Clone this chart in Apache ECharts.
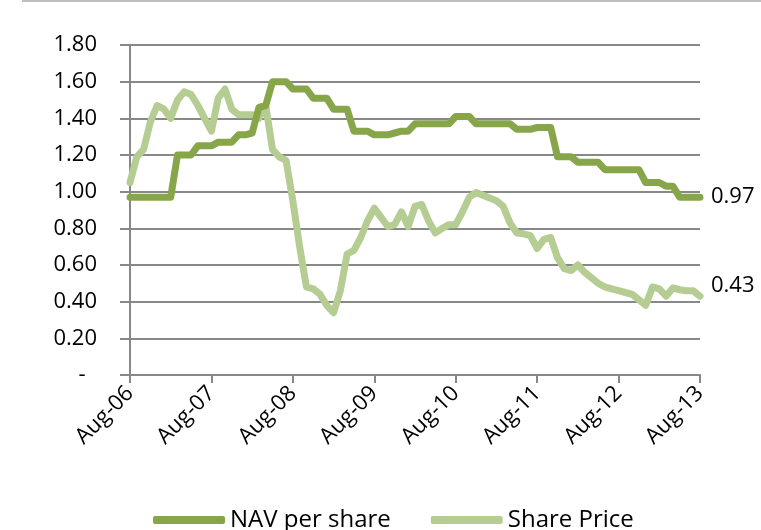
<!DOCTYPE html>
<html lang="en">
<head>
    <meta charset="UTF-8">
    <title> NAV vs Share Price </title>
    <script src="https://cdn.jsdelivr.net/npm/echarts@6/dist/echarts.min.js"></script>
    <style>
        body { margin: 0; background: #fff; }
    </style>
</head>
<body>
    <div id="main" style="width: 761px;height:530px;"></div>
    <script type="text/javascript">
      // month labels Aug-06 .. Aug-13
      var monthNames = ['Jan','Feb','Mar','Apr','May','Jun','Jul','Aug','Sep','Oct','Nov','Dec'];
      var months = [];
      for (var k = 0; k < 85; k++) {
        var m = (7 + k) % 12;
        var y = 6 + Math.floor((7 + k) / 12);
        months.push(monthNames[m] + '-' + (y < 10 ? '0' + y : y));
      }

      var navPerShare = [
        0.97, 0.97, 0.97, 0.97, 0.97, 0.97, 0.97,
        1.20, 1.20, 1.20, 1.25, 1.25, 1.25, 1.27, 1.27, 1.27,
        1.31, 1.31, 1.32, 1.46, 1.47,
        1.60, 1.60, 1.60, 1.56, 1.56, 1.56, 1.51, 1.51, 1.51,
        1.45, 1.45, 1.45, 1.33, 1.33, 1.33, 1.31, 1.31, 1.31,
        1.32, 1.33, 1.33, 1.37, 1.37, 1.37, 1.37, 1.37, 1.37,
        1.41, 1.41, 1.41, 1.37, 1.37, 1.37, 1.37, 1.37, 1.37,
        1.34, 1.34, 1.34, 1.35, 1.35, 1.35, 1.19, 1.19, 1.19,
        1.16, 1.16, 1.16, 1.16, 1.12, 1.12, 1.12, 1.12, 1.12, 1.12,
        1.05, 1.05, 1.05, 1.03, 1.03, 0.97, 0.97, 0.97, 0.97
      ];

      var sharePrice = [
        1.05, 1.19, 1.23, 1.38, 1.47, 1.45, 1.40, 1.50, 1.545, 1.53,
        1.47, 1.40, 1.33, 1.51, 1.56, 1.45, 1.42, 1.42, 1.42, 1.40,
        1.47, 1.23, 1.19, 1.17, 0.95, 0.70, 0.48, 0.47, 0.44, 0.38,
        0.34, 0.46, 0.66, 0.68, 0.75, 0.84, 0.91, 0.86, 0.81, 0.82,
        0.89, 0.81, 0.92, 0.93, 0.84, 0.775, 0.80, 0.82, 0.82, 0.89,
        0.97, 0.995, 0.98, 0.965, 0.95, 0.92, 0.83, 0.775, 0.77, 0.76,
        0.69, 0.74, 0.75, 0.64, 0.58, 0.57, 0.60, 0.56, 0.53, 0.50,
        0.48, 0.47, 0.46, 0.45, 0.44, 0.41, 0.38, 0.48, 0.47, 0.43,
        0.475, 0.465, 0.46, 0.46, 0.43
      ];

      var navColor = '#87a64a';
      var priceColor = '#b5cd93';
      var gridGray = '#888888';
      var font = 'Open Sans';

      var myChart = echarts.init(document.getElementById('main'));

      var option = {
        animation: false,
        textStyle: { fontFamily: font },
        grid: { left: 130, right: 61, top: 45, bottom: 155 },
        legend: {
          left: 148,
          bottom: -7,
          icon: 'roundRect',
          itemWidth: 72,
          itemHeight: 8,
          itemGap: 40,
          textStyle: { fontSize: 24, color: '#000', fontFamily: font },
          data: ['NAV per share', 'Share Price']
        },
        xAxis: {
          type: 'category',
          boundaryGap: false,
          data: months,
          axisLine: { lineStyle: { color: gridGray, width: 2 } },
          axisTick: { interval: 11, length: 8, lineStyle: { color: gridGray, width: 2 } },
          axisLabel: { interval: 11, rotate: 45, margin: 15, fontSize: 22, color: '#000', fontFamily: font },
          splitLine: { show: false }
        },
        yAxis: {
          type: 'value',
          min: 0,
          max: 1.8,
          interval: 0.2,
          axisLine: { show: true, lineStyle: { color: gridGray, width: 2 } },
          axisTick: { show: true, length: 10, lineStyle: { color: gridGray, width: 2 } },
          axisLabel: {
            margin: 33,
            fontSize: 22,
            color: '#000',
            fontFamily: font,
            formatter: function (v) { return v === 0 ? '-  ' : v.toFixed(2); }
          },
          splitLine: { lineStyle: { color: gridGray, width: 2 } }
        },
        graphic: [
          { type: 'line', shape: { x1: 22, y1: 1, x2: 761, y2: 1 }, style: { stroke: '#bfbfbf', lineWidth: 2 } }
        ],
        series: [
          {
            name: 'NAV per share',
            type: 'line',
            data: navPerShare,
            showSymbol: false,
            color: navColor,
            lineStyle: { width: 7, color: navColor, cap: 'round', join: 'round' },
            endLabel: {
              show: true,
              distance: 11,
              fontSize: 22,
              color: '#000',
              fontFamily: font,
              formatter: function (p) { return p.value.toFixed(2); }
            },
            z: 3
          },
          {
            name: 'Share Price',
            type: 'line',
            data: sharePrice,
            showSymbol: false,
            color: priceColor,
            lineStyle: { width: 7, color: priceColor, cap: 'round', join: 'round' },
            endLabel: {
              show: true,
              distance: 11,
              offset: [0, -10],
              fontSize: 22,
              color: '#000',
              fontFamily: font,
              formatter: function (p) { return p.value.toFixed(2); }
            },
            z: 2
          }
        ]
      };

      myChart.setOption(option);
    </script>
</body>
</html>
